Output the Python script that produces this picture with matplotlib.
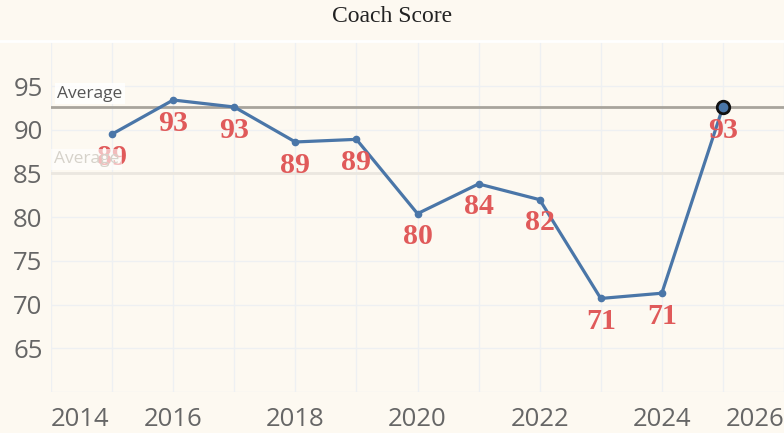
import matplotlib
matplotlib.use("Agg")
import matplotlib.pyplot as plt
from matplotlib.lines import Line2D

years = [2015, 2016, 2017, 2018, 2019, 2020, 2021, 2022, 2023, 2024, 2025]
scores = [89.5, 93.4, 92.6, 88.6, 88.9, 80.4, 83.8, 82.0, 70.7, 71.3, 92.6]
labels = ["89", "93", "93", "89", "89", "80", "84", "82", "71", "71", "93"]
avg_ref = 92.6
avg_mean = 85.0
yticks = [65, 70, 75, 80, 85, 90, 95]
xticks = [2014, 2016, 2018, 2020, 2022, 2024, 2026]

BG = "#fdf9f1"
fig = plt.figure(figsize=(7.84, 4.33), dpi=100, facecolor=BG)
ax = fig.add_axes([51/784, 41/433, 1 - 51/784, (392-41)/433])
ax.set_facecolor(BG)
ax.set_xlim(2014, 2026)
ax.set_ylim(60, 100.15)

# gridlines
for yr in range(2014, 2027):
    ax.axvline(yr, color="#eef0f2", lw=1, zorder=0)
for v in [60] + yticks:
    ax.axhline(v, color="#eef0f2", lw=1, zorder=0)

for s in ax.spines.values():
    s.set_visible(False)

ax.set_yticks(yticks)
ax.set_yticklabels([str(v) for v in yticks])
ax.set_xticks(xticks)
ax.set_xticklabels([str(v) for v in xticks])
ax.tick_params(axis="both", length=0, labelsize=18.5, labelcolor="#666666", pad=6)
ax.tick_params(axis="x", pad=11)
for lab in ax.get_yticklabels() + ax.get_xticklabels():
    lab.set_fontfamily("Open Sans")
xl = ax.get_xticklabels()
xl[0].set_horizontalalignment("left")
xl[-1].set_horizontalalignment("right")

# reference lines
ax.axhline(avg_mean, color="#ebe7e0", lw=2, zorder=1)
ax.axhline(avg_ref, color="#a8a49c", lw=2, zorder=1)

# series
ax.plot(years, scores, color="#4a76a8", lw=2.3, marker="o", ms=4.5, zorder=3)
ax.plot([years[-1]], [scores[-1]], marker="o", ms=9, mfc="#4a76a8",
        mec="#111111", mew=2, zorder=4, ls="none")

for x, y, t in zip(years, scores, labels):
    ax.annotate(t, (x, y), xytext=(0, -22), textcoords="offset points",
                ha="center", va="baseline", fontsize=21.5, fontweight="bold",
                fontfamily="Liberation Serif", color="#e05a5a", zorder=5)

# average labels
ax.text(2014.1, avg_ref + 0.6, "Average", fontsize=12.5, color="#555555",
        fontfamily="Open Sans", va="bottom", ha="left", zorder=6,
        bbox=dict(boxstyle="square,pad=0.15", fc="#ffffff", ec="none", alpha=0.85))
ax.text(2014.05, avg_mean + 0.7, "Average", fontsize=12.5, color="#d6d2ca",
        fontfamily="Open Sans", va="bottom", ha="left", zorder=6,
        bbox=dict(boxstyle="square,pad=0.15", fc="#ffffff", ec="none", alpha=0.6))

# title and separator
fig.text(0.5, 1 - 16/433, "Coach Score", ha="center", va="center",
         fontsize=17, fontfamily="Liberation Serif", color="#222222")
fig.add_artist(Line2D([0, 1], [1 - 40.5/433, 1 - 40.5/433], color="#ffffff",
                      lw=2, transform=fig.transFigure))

fig.savefig("out.png", dpi=100, facecolor=BG)
